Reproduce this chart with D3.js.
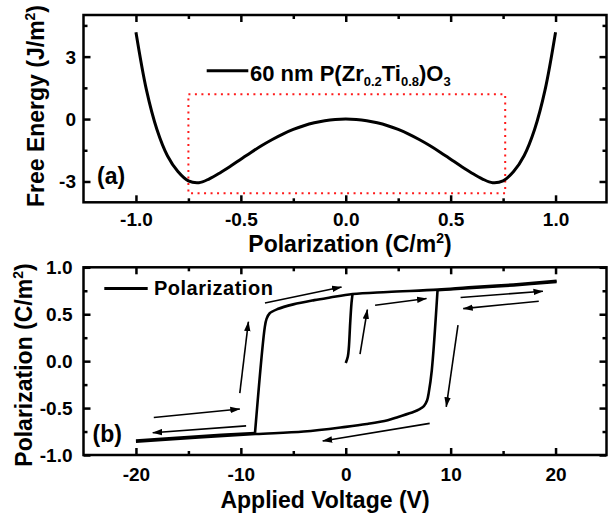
<!DOCTYPE html>
<html>
<head>
<meta charset="utf-8">
<script src="https://cdn.jsdelivr.net/npm/d3@7"></script>
<style>
  body { margin: 0; background: #fff; }
  svg text { font-family: "Liberation Sans", Arial, sans-serif; font-weight: bold; fill: #000; }
</style>
</head>
<body>
<svg id="chart" width="608" height="519"></svg>
<script>
'use strict';

// ---- panel (a): free energy vs polarization ----
const energyP = [-1.0, -0.95, -0.9, -0.85, -0.8, -0.75, -0.7, -0.65, -0.6, -0.55, -0.5,
                 -0.45, -0.4, -0.35, -0.3, -0.25, -0.2, -0.15, -0.1, -0.05, 0.0,
                 0.05, 0.1, 0.15, 0.2, 0.25, 0.3, 0.35, 0.4, 0.45, 0.5,
                 0.55, 0.6, 0.65, 0.7, 0.75, 0.8, 0.85, 0.9, 0.95, 1.0];
const energyF = [4.17, 1.40, -0.50, -1.76, -2.52, -2.97, -3.06, -2.87, -2.59, -2.27, -1.93,
                 -1.59, -1.27, -0.98, -0.72, -0.50, -0.32, -0.18, -0.08, -0.02, 0.0,
                 -0.02, -0.08, -0.18, -0.32, -0.50, -0.72, -0.98, -1.27, -1.59, -1.93,
                 -2.27, -2.59, -2.87, -3.06, -2.97, -2.52, -1.76, -0.50, 1.40, 4.17];
const boxP = [-0.75, 0.76];
const boxF = [-3.57, 1.19];
const aXTicks = [-1.0, -0.5, 0.0, 0.5, 1.0];
const aXMinor = [-0.75, -0.25, 0.25, 0.75];
const aYTicks = [-3, 0, 3];
const aYMinor = [-1.5, 1.5, 4.5];

// ---- panel (b): hysteresis loop ----
const virginV = [0.0, 0.2, 0.3, 0.42, 0.55, 0.65];
const virginP = [-0.02, 0.05, 0.15, 0.40, 0.62, 0.72];
// increasing voltage: lower part, then switching + upper part
const upLowV = [-20.0, -14.0, -8.65];
const upLowP = [-0.845, -0.80, -0.765];
const upHighV = [-8.65, -7.72, -7.55, -7.25, -6.5, -5.0, -3.0, -1.5, 0.65, 4.0, 8.8, 11.7, 16.0, 20.1];
const upHighP = [-0.765, 0.36, 0.45, 0.51, 0.555, 0.605, 0.65, 0.678, 0.715, 0.737, 0.762, 0.786, 0.817, 0.855];
// decreasing voltage: upper part, then switching + lower part
const downHighV = [20.1, 16.0, 11.7, 8.75];
const downHighP = [0.845, 0.807, 0.776, 0.755];
const downLowV = [8.75, 8.2, 7.92, 7.75, 7.45, 7.0, 6.5, 5.0, 4.0, 2.0, 0.0, -4.0, -8.6, -14.0, -20.0];
const downLowP = [0.755, -0.10, -0.33, -0.42, -0.48, -0.515, -0.54, -0.595, -0.63, -0.67, -0.70, -0.75, -0.777, -0.812, -0.858];
// arrows: start (v0,p0) to tip (v1,p1)
const arrowV0 = [-18.3, -9.5, -10.1, -7.7, 1.36, 2.8, 10.95, 18.4, 10.7, 8.0];
const arrowP0 = [-0.60, -0.69, -0.34, 0.62, 0.075, 0.596, 0.678, 0.638, 0.383, -0.663];
const arrowV1 = [-10.1, -18.4, -9.28, -0.4, 2.06, 7.7, 18.8, 11.2, 9.58, -2.2];
const arrowP1 = [-0.51, -0.763, 0.42, 0.79, 0.55, 0.667, 0.745, 0.56, -0.486, -0.851];
const bXTicks = [-20, -10, 0, 10, 20];
const bXMinor = [-15, -5, 5, 15];
const bYTicks = [-1.0, -0.5, 0.0, 0.5, 1.0];
const bYMinor = [-0.75, -0.25, 0.25, 0.75];

const svg = d3.select("#chart");

const defs = svg.append("defs");
defs.append("marker")
    .attr("id", "head")
    .attr("viewBox", "0 0 10 7")
    .attr("refX", 9.5).attr("refY", 3.5)
    .attr("markerUnits", "userSpaceOnUse")
    .attr("markerWidth", 10).attr("markerHeight", 7)
    .attr("orient", "auto")
    .append("path").attr("d", "M0,0.3 L10,3.5 L0,6.7 Z").attr("fill", "#000");

const FRAME_R = 606.5;

function frameAndTicks(x, y, o) {
    const g = svg.append("g");
    const y0 = y.range()[0], y1 = y.range()[1], x0 = x.range()[0];

    const bottom = g.append("g").attr("transform", `translate(0,${y0})`)
        .call(d3.axisBottom(x).tickValues(o.xTicks).tickSize(-7).tickPadding(o.xPad).tickFormat(o.xFmt));
    g.append("g").attr("transform", `translate(0,${y0})`)
        .call(d3.axisBottom(x).tickValues(o.xMinor).tickSize(-4).tickFormat(""));
    g.append("g").attr("transform", `translate(0,${y1})`)
        .call(d3.axisTop(x).tickValues(o.xTicks).tickSize(-7).tickFormat(""));
    g.append("g").attr("transform", `translate(0,${y1})`)
        .call(d3.axisTop(x).tickValues(o.xMinor).tickSize(-4).tickFormat(""));

    const left = g.append("g").attr("transform", `translate(${x0},0)`)
        .call(d3.axisLeft(y).tickValues(o.yTicks).tickSize(-7).tickPadding(o.yPad).tickFormat(o.yFmt));
    g.append("g").attr("transform", `translate(${x0},0)`)
        .call(d3.axisLeft(y).tickValues(o.yMinor).tickSize(-4).tickFormat(""));
    g.append("g").attr("transform", `translate(${FRAME_R},0)`)
        .call(d3.axisRight(y).tickValues(o.yTicks).tickSize(-7).tickFormat(""));
    g.append("g").attr("transform", `translate(${FRAME_R},0)`)
        .call(d3.axisRight(y).tickValues(o.yMinor).tickSize(-4).tickFormat(""));

    g.selectAll(".domain").remove();
    g.selectAll(".tick line").attr("stroke", "#000").attr("stroke-width", 2.5);
    bottom.selectAll("text").style("font-size", "19px");
    left.selectAll("text").style("font-size", "19px").attr("dy", "0.34em");

    g.append("rect")
        .attr("x", x0).attr("y", y1)
        .attr("width", FRAME_R - x0).attr("height", y0 - y1)
        .attr("fill", "none").attr("stroke", "#000").attr("stroke-width", 2.5);
}

// ================= panel (a) =================
const xa = d3.scaleLinear().domain([-1.25, 1.25]).range([83.5, 608]);
const ya = d3.scaleLinear().domain([-4, 5]).range([202.3, 15]);

svg.append("rect")
    .attr("x", xa(boxP[0])).attr("y", ya(boxF[1]))
    .attr("width", xa(boxP[1]) - xa(boxP[0]))
    .attr("height", ya(boxF[0]) - ya(boxF[1]))
    .attr("fill", "none").attr("stroke", "#ff1a1a")
    .attr("stroke-width", 2).attr("stroke-dasharray", "2,4.5");

const lineA = d3.line()
    .x((d, i) => xa(energyP[i]))
    .y(d => ya(d))
    .curve(d3.curveCatmullRom.alpha(0.5));
svg.append("path")
    .attr("d", lineA(energyF))
    .attr("fill", "none").attr("stroke", "#000").attr("stroke-width", 3);

frameAndTicks(xa, ya, {
    xTicks: aXTicks, xMinor: aXMinor, yTicks: aYTicks, yMinor: aYMinor,
    xPad: 10.5, yPad: 7.5,
    xFmt: d => d.toFixed(1), yFmt: d => String(d)
});

// legend (a)
svg.append("line").attr("x1", 206.7).attr("x2", 248.3).attr("y1", 70.7).attr("y2", 70.7)
    .attr("stroke", "#000").attr("stroke-width", 3);
const legA = svg.append("text").attr("x", 250).attr("y", 80.7).style("font-size", "22px");
legA.append("tspan").text("60 nm P(Zr");
legA.append("tspan").attr("dy", 5).style("font-size", "13px").text("0.2");
legA.append("tspan").attr("dy", -5).text("Ti");
legA.append("tspan").attr("dy", 5).style("font-size", "13px").text("0.8");
legA.append("tspan").attr("dy", -5).text(")O");
legA.append("tspan").attr("dy", 5).style("font-size", "13px").text("3");

svg.append("text").attr("x", 97).attr("y", 183.5).style("font-size", "23px").text("(a)");

// axis titles (a)
const xtA = svg.append("text").attr("x", 350).attr("y", 252)
    .attr("text-anchor", "middle").style("font-size", "23px");
xtA.append("tspan").text("Polarization (C/m");
xtA.append("tspan").attr("dy", -9).style("font-size", "14px").text("2");
xtA.append("tspan").attr("dy", 9).text(")");

const ytA = svg.append("text").attr("transform", "translate(44,106) rotate(-90)")
    .attr("text-anchor", "middle").style("font-size", "23px");
ytA.append("tspan").text("Free Energy (J/m");
ytA.append("tspan").attr("dy", -9).style("font-size", "14px").text("2");
ytA.append("tspan").attr("dy", 9).text(")");

// ================= panel (b) =================
const xb = d3.scaleLinear().domain([-25, 25]).range([83.5, 608]);
const yb = d3.scaleLinear().domain([-1, 1]).range([455, 267.3]);

const lineB = (vs, ps) => d3.line()
    .x((d, i) => xb(vs[i]))
    .y(d => yb(d))
    .curve(d3.curveCatmullRom.alpha(0.5))(ps);

[[virginV, virginP], [upLowV, upLowP], [upHighV, upHighP],
 [downHighV, downHighP], [downLowV, downLowP]].forEach(([vs, ps]) => {
    svg.append("path")
        .attr("d", lineB(vs, ps))
        .attr("fill", "none").attr("stroke", "#000")
        .attr("stroke-width", 2.6).attr("stroke-linejoin", "round");
});

svg.append("g").selectAll("line")
    .data(arrowV0)
    .join("line")
    .attr("x1", (d, i) => xb(arrowV0[i]))
    .attr("y1", (d, i) => yb(arrowP0[i]))
    .attr("x2", (d, i) => xb(arrowV1[i]))
    .attr("y2", (d, i) => yb(arrowP1[i]))
    .attr("stroke", "#000").attr("stroke-width", 1.6)
    .attr("marker-end", "url(#head)");

frameAndTicks(xb, yb, {
    xTicks: bXTicks, xMinor: bXMinor, yTicks: bYTicks, yMinor: bYMinor,
    xPad: 13, yPad: 11,
    xFmt: d => String(d), yFmt: d => d.toFixed(1)
});

// legend (b)
svg.append("line").attr("x1", 104.3).attr("x2", 147.7).attr("y1", 288.5).attr("y2", 288.5)
    .attr("stroke", "#000").attr("stroke-width", 3);
svg.append("text").attr("x", 154).attr("y", 295.3)
    .style("font-size", "20px").style("letter-spacing", "0.5px").text("Polarization");

svg.append("text").attr("x", 92.5).attr("y", 442).style("font-size", "23px").text("(b)");

// axis titles (b)
svg.append("text").attr("x", 325).attr("y", 508.3)
    .attr("text-anchor", "middle").style("font-size", "23px").text("Applied Voltage (V)");

const ytB = svg.append("text").attr("transform", "translate(32.3,365) rotate(-90)")
    .attr("text-anchor", "middle").style("font-size", "23px");
ytB.append("tspan").text("Polarization (C/m");
ytB.append("tspan").attr("dy", -9).style("font-size", "14px").text("2");
ytB.append("tspan").attr("dy", 9).text(")");
</script>
</body>
</html>
